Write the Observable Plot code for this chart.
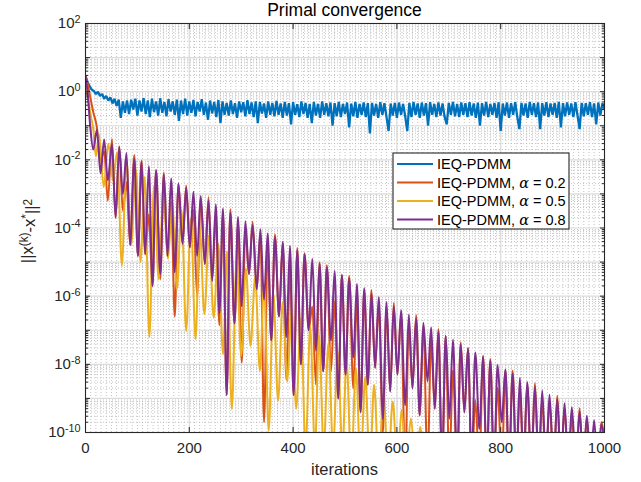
<!DOCTYPE html>
<html><head><meta charset="utf-8">
<script src="https://cdn.jsdelivr.net/npm/d3@7"></script>
<script src="https://cdn.jsdelivr.net/npm/@observablehq/plot@0.6"></script>
<style>
body{margin:0;background:#fff;}
#chart{position:relative;width:641px;height:482px;}
</style></head><body><div id="chart"></div>
<script>
// ---------- data ----------
const seriesNames = ["IEQ-PDMM", "IEQ-PDMM, \u03b1 = 0.2", "IEQ-PDMM, \u03b1 = 0.5", "IEQ-PDMM, \u03b1 = 0.8"];
const seriesColors = ["#0072BD", "#D95319", "#EDB120", "#7E2F8E"];
const xTicks = [0, 200, 400, 600, 800, 1000];
const yLabelExps = [2, 0, -2, -4, -6, -8, -10];

// IEQ-PDMM (no alpha): ||x-x*||^2 sampled every 4 iterations
const blueStep = 4;
const blueVal = [
2.9,1.9,1.45,1.15,1.05,0.85,1.0,0.75,0.85,0.62,
0.75,0.55,0.68,0.45,0.62,0.38,0.58,0.17,0.52,0.24,
0.55,0.22,0.58,0.3,0.62,0.2,0.55,0.26,0.65,0.22,
0.55,0.18,0.62,0.25,0.52,0.2,0.64,0.24,0.5,0.19,
0.6,0.26,0.52,0.21,0.58,0.14,0.55,0.22,0.62,0.2,
0.52,0.24,0.57,0.19,0.5,0.26,0.6,0.21,0.48,0.15,
0.55,0.23,0.5,0.18,0.57,0.12,0.52,0.21,0.47,0.2,
0.55,0.22,0.46,0.17,0.52,0.25,0.49,0.19,0.56,0.22,
0.48,0.18,0.52,0.12,0.5,0.23,0.45,0.17,0.52,0.21,
0.47,0.19,0.54,0.21,0.45,0.17,0.5,0.2,0.46,0.11,
0.49,0.21,0.43,0.18,0.52,0.22,0.47,0.17,0.44,0.12,
0.5,0.2,0.44,0.17,0.52,0.21,0.46,0.19,0.48,0.1,
0.46,0.19,0.5,0.18,0.44,0.22,0.48,0.09,0.45,0.19,
0.5,0.17,0.44,0.21,0.48,0.18,0.46,0.06,0.47,0.2,
0.44,0.17,0.49,0.21,0.46,0.18,0.07,0.45,0.2,0.47,
0.17,0.48,0.21,0.44,0.19,0.07,0.47,0.18,0.5,0.21,
0.45,0.17,0.48,0.2,0.46,0.1,0.49,0.21,0.44,0.18,
0.48,0.2,0.45,0.18,0.11,0.47,0.21,0.5,0.19,0.44,
0.18,0.48,0.21,0.46,0.18,0.49,0.2,0.45,0.17,0.48,
0.1,0.46,0.2,0.5,0.18,0.44,0.21,0.47,0.17,0.49,
0.07,0.45,0.2,0.48,0.17,0.46,0.21,0.49,0.18,0.08,
0.47,0.2,0.45,0.17,0.5,0.21,0.46,0.18,0.48,0.08,
0.46,0.2,0.49,0.18,0.45,0.21,0.47,0.17,0.5,0.09,
0.46,0.19,0.48,0.21,0.45,0.18,0.49,0.2,0.08,0.47,
0.19,0.46,0.21,0.49,0.18,0.45,0.11,0.48,0.2,0.46,0.3
];

// alpha = 0.2 : [iteration, log10 ||x-x*||^2] at peaks and dips
const orangeLog10 = [
[0,0.46],[4,0.25],[9,-0.15],[15,-0.6],[22,-1.05],[29,-2.0],[36,-1.75],[43,-3.2],[51,-1.39],[58,-3.7],[65,-1.6],[72,-3.5],[79,-2.65],[86,-4.5],[94,-1.86],[101,-4.82],[108,-2.03],[115,-4.77],[122,-3.6],[129,-5.7],[136,-2.3],[144,-5.5],[151,-2.37],[158,-4.82],[165,-3.22],[172,-6.6],[179,-2.71],[187,-4.47],[194,-2.75],[201,-4.57],[208,-3.46],[215,-6.0],[222,-3.13],[230,-5.06],[237,-3.1],[244,-5.55],[251,-3.64],[258,-6.85],[265,-3.58],[272,-8.9],[279,-3.45],[287,-6.8],[294,-3.88],[301,-7.95],[308,-4.06],[315,-5.35],[322,-3.82],[330,-5.8],[337,-4.14],[344,-9.7],[351,-4.57],[358,-7.3],[365,-4.19],[373,-6.6],[380,-4.44],[387,-8.45],[394,-5.19],[401,-8.9],[408,-4.59],[415,-8.0],[422,-4.74],[430,-7.0],[437,-6.3],[444,-8.6],[451,-5.01],[458,-8.2],[465,-5.09],[473,-8.2],[480,-6.16],[487,-9.0],[494,-5.39],[501,-8.3],[508,-5.41],[516,-8.7],[523,-6.16],[530,-9.4],[537,-5.84],[544,-8.6],[551,-5.82],[558,-8.1],[565,-6.29],[573,-10.0],[580,-6.32],[587,-8.8],[594,-6.19],[601,-8.3],[608,-6.56],[616,-11],[623,-6.8],[630,-8.7],[637,-6.56],[644,-9.5],[651,-6.85],[659,-11],[666,-7.32],[673,-9.3],[680,-6.96],[687,-11],[694,-7.18],[701,-11],[708,-8.18],[716,-11],[723,-7.35],[730,-9.4],[737,-7.51],[744,-11],[751,-9.05],[759,-11],[766,-7.75],[773,-11],[780,-7.84],[787,-11],[794,-8.69],[802,-11],[809,-8.17],[816,-11],[823,-8.19],[830,-11],[837,-8.8],[844,-11],[851,-8.62],[859,-11],[866,-8.55],[873,-11],[880,-9.03],[887,-11],[894,-9.09],[902,-11],[909,-8.92],[916,-11],[923,-9.29],[930,-11],[937,-9.59],[945,-11],[952,-9.29],[959,-11],[966,-9.58],[973,-11],[980,-10.16],[987,-11],[994,-9.69],[1000,-10.2]
];

// alpha = 0.5
const yellowLog10 = [
[0,0.46],[5,-0.2],[10,-0.7],[15,-1.1],[20,-1.9],[26,-1.25],[35,-2.8],[44,-1.53],[53,-2.6],[61,-1.77],[70,-5.1],[79,-2.01],[88,-4.5],[97,-2.26],[106,-5.0],[114,-2.5],[123,-7.2],[132,-2.75],[141,-5.5],[150,-3.0],[159,-4.9],[167,-3.23],[176,-5.8],[185,-3.48],[194,-7.02],[203,-3.73],[212,-7.26],[220,-3.96],[229,-6.53],[238,-4.21],[247,-6.63],[256,-4.46],[265,-7.7],[273,-4.69],[282,-9.31],[291,-4.94],[300,-7.75],[309,-5.19],[318,-7.46],[327,-5.44],[336,-8.19],[344,-5.67],[353,-9.95],[362,-5.92],[371,-9.07],[380,-6.17],[389,-8.5],[397,-6.4],[406,-9.3],[415,-6.65],[424,-10.5],[433,-6.9],[442,-10.5],[450,-7.13],[459,-10.5],[468,-7.38],[477,-10.5],[486,-7.63],[495,-10.5],[503,-7.87],[512,-11],[521,-8.11],[530,-11],[539,-8.36],[548,-11],[556,-8.6],[565,-11],[574,-8.85],[583,-11],[592,-9.09],[601,-11],[609,-9.33],[618,-11],[627,-9.58],[636,-11],[645,-9.83],[654,-11],[662,-10.06],[671,-11],[680,-10.3],[690,-11.5]
];

// alpha = 0.8
const purpleLog10 = [
[0,0.46],[4,0.0],[9,-1.0],[15,-1.7],[22,-1.12],[29,-2.4],[36,-1.4],[43,-2.6],[51,-1.54],[58,-3.7],[65,-1.62],[72,-3.0],[79,-1.8],[86,-4.5],[94,-1.98],[101,-4.82],[108,-2.06],[115,-4.77],[122,-2.19],[129,-5.7],[136,-2.31],[144,-5.35],[151,-2.43],[158,-4.82],[165,-2.55],[172,-5.3],[179,-2.69],[187,-4.47],[194,-2.82],[201,-4.57],[208,-2.94],[215,-4.82],[222,-3.06],[230,-5.06],[237,-3.19],[244,-5.55],[251,-3.31],[258,-6.5],[265,-3.43],[272,-8.9],[279,-3.55],[287,-6.8],[294,-3.68],[301,-6.3],[308,-3.8],[315,-5.35],[322,-3.92],[330,-5.8],[337,-4.04],[344,-6.1],[351,-4.16],[358,-7.3],[365,-4.27],[373,-6.6],[380,-4.4],[387,-7.2],[394,-4.52],[401,-8.9],[408,-4.65],[415,-8.0],[422,-4.77],[430,-7.0],[437,-4.9],[444,-7.6],[451,-5.04],[458,-8.2],[465,-5.15],[473,-7.3],[480,-5.26],[487,-9.0],[494,-5.37],[501,-8.3],[508,-5.49],[516,-7.8],[523,-5.64],[530,-9.4],[537,-5.77],[544,-8.6],[551,-5.92],[558,-8.1],[565,-6.03],[573,-9.6],[580,-6.17],[587,-8.8],[594,-6.29],[601,-8.3],[608,-6.41],[616,-9.2],[623,-6.54],[630,-8.7],[637,-6.66],[644,-9.5],[651,-6.78],[659,-8.5],[666,-6.91],[673,-9.3],[680,-7.04],[687,-11],[694,-7.16],[701,-9.6],[708,-7.28],[716,-11],[723,-7.41],[730,-9.4],[737,-7.54],[744,-11],[751,-7.65],[759,-9.9],[766,-7.78],[773,-11],[780,-7.9],[787,-11],[794,-8.02],[802,-9.7],[809,-8.15],[816,-11],[823,-8.27],[830,-11],[837,-8.39],[844,-11],[851,-8.52],[859,-11],[866,-8.65],[873,-11],[880,-8.77],[887,-11],[894,-8.89],[902,-11],[909,-9.02],[916,-11],[923,-9.14],[930,-11],[937,-9.26],[945,-11],[952,-9.39],[959,-11],[966,-9.51],[973,-11],[980,-9.64],[987,-11],[994,-9.76],[1000,-10.4]
];

// ---------- build tables ----------
const blue = blueVal.map((v, i) => ({it: i * blueStep, v}));
const fromLog = arr => arr.map(([it, e]) => ({it, v: Math.pow(10, e)}));
const orange = fromLog(orangeLog10), yellow = fromLog(yellowLog10), purple = fromLog(purpleLog10);

const yMajor = d3.range(-10, 3).map(e => Math.pow(10, e));
const yLabelTicks = yLabelExps.map(e => Math.pow(10, e));
const yMinor = [];
for (let e = -10; e < 2; e++) for (let m = 2; m <= 9; m++) yMinor.push(m * Math.pow(10, e));
const xMinor = d3.range(0, 1001, 10);
const xMajorGrid = xTicks.slice(1, -1);
const yMajorGrid = yMajor.slice(1, -1);

const AX = "#262626";
const FONT = '"Liberation Sans", Arial, Helvetica, sans-serif';

const plot = Plot.plot({
  width: 641, height: 482,
  marginLeft: 85, marginRight: 37, marginTop: 23, marginBottom: 50,
  style: {fontFamily: FONT, fontSize: "15px", color: AX, background: "white", overflow: "visible"},
  x: {domain: [0, 1000]},
  y: {type: "log", domain: [1e-10, 1e2]},
  marks: [
    Plot.ruleX(xMinor, {x: d => d, stroke: "#b4b4b4", strokeWidth: 0.8, strokeDasharray: "1,2"}),
    Plot.ruleY(yMinor, {y: d => d, stroke: "#b4b4b4", strokeWidth: 0.8, strokeDasharray: "1,2"}),
    Plot.ruleX(xMajorGrid, {x: d => d, stroke: "#dcdcdc", strokeWidth: 1.2}),
    Plot.ruleY(yMajorGrid, {y: d => d, stroke: "#dcdcdc", strokeWidth: 1.2}),
    Plot.line(blue, {x: "it", y: "v", stroke: seriesColors[0], strokeWidth: 2.3, strokeLinejoin: "miter", clip: true}),
    Plot.line(orange, {x: "it", y: "v", stroke: seriesColors[1], strokeWidth: 2, curve: "monotone-x", clip: true}),
    Plot.line(yellow, {x: "it", y: "v", stroke: seriesColors[2], strokeWidth: 2, curve: "monotone-x", clip: true}),
    Plot.line(purple, {x: "it", y: "v", stroke: seriesColors[3], strokeWidth: 2, curve: "monotone-x", clip: true}),
    Plot.frame({stroke: AX, strokeWidth: 1.1}),
    Plot.axisX({ticks: xTicks, tickSize: 0, tickPadding: 10, tickFormat: d => String(d), label: null}),
    Plot.axisX({ticks: xTicks, anchor: "bottom", tickSize: -5, fill: "none", stroke: AX, label: null}),
    Plot.axisX({ticks: xTicks, anchor: "top", tickSize: -5, fill: "none", stroke: AX, label: null}),
    Plot.axisY({ticks: yLabelTicks, tickSize: 0, tickPadding: 5, tickFormat: d => "10^" + Math.round(Math.log10(d)), label: null}),
    Plot.axisY({ticks: yMajor, anchor: "left", tickSize: -5, fill: "none", stroke: AX, label: null}),
    Plot.axisY({ticks: yMajor, anchor: "right", tickSize: -5, fill: "none", stroke: AX, label: null}),
    Plot.axisY({ticks: yMinor, anchor: "left", tickSize: -3, fill: "none", stroke: AX, label: null}),
    Plot.axisY({ticks: yMinor, anchor: "right", tickSize: -3, fill: "none", stroke: AX, label: null})
  ]
});
document.getElementById("chart").append(plot);

const svg = d3.select(plot);
// superscript tick labels
svg.selectAll('g[aria-label="y-axis tick label"] text').each(function () {
  const t = this.textContent;
  const parts = t.split("^");
  const s = d3.select(this);
  s.text("");
  s.append("tspan").text(parts[0]);
  s.append("tspan").attr("dy", "-0.5em").attr("font-size", "0.72em").text(parts[1]);
});

const cx = 85 + (604 - 85) / 2;
// title
svg.append("text").attr("x", cx).attr("y", 16).attr("text-anchor", "middle")
  .attr("font-size", 17.5).attr("fill", "#000").attr("font-family", FONT).text("Primal convergence");
// x label
svg.append("text").attr("x", cx).attr("y", 475).attr("text-anchor", "middle")
  .attr("font-size", 16.5).attr("fill", AX).attr("font-family", FONT).text("iterations");
// y label
const yl = svg.append("text").attr("transform", `translate(33,231) rotate(-90)`)
  .attr("text-anchor", "middle").attr("font-size", 16.5).attr("fill", AX).attr("font-family", FONT);
yl.append("tspan").text("||x");
yl.append("tspan").attr("dy", "-0.45em").attr("font-size", "0.72em").text("(k)");
yl.append("tspan").attr("dy", "0.45em").text("-x");
yl.append("tspan").attr("dy", "-0.45em").attr("font-size", "0.72em").text("*");
yl.append("tspan").attr("dy", "0.45em").text("||");
yl.append("tspan").attr("dy", "-0.45em").attr("font-size", "0.72em").text("2");

// legend
const lg = svg.append("g").attr("font-family", FONT).attr("font-size", 14.5).attr("text-anchor", "start");
lg.append("rect").attr("x", 393).attr("y", 153).attr("width", 176).attr("height", 76)
  .attr("fill", "white").attr("stroke", AX).attr("stroke-width", 1.1);
const rowsY = [164, 182.5, 201, 219.5];
seriesNames.forEach((name, i) => {
  lg.append("line").attr("x1", 397).attr("x2", 433).attr("y1", rowsY[i]).attr("y2", rowsY[i])
    .attr("stroke", seriesColors[i]).attr("stroke-width", 2);
  const t = lg.append("text").attr("x", 437).attr("y", rowsY[i]).attr("dy", "0.36em")
    .attr("text-anchor", "start").attr("fill", "#000");
  if (i === 0) t.text(name);
  else {
    const [a, b] = name.split("\u03b1");
    t.append("tspan").text(a);
    t.append("tspan").attr("font-family", '"DejaVu Serif", "Liberation Serif", serif').attr("font-style", "italic").text("\u03b1");
    t.append("tspan").text(b);
  }
});
</script></body></html>
